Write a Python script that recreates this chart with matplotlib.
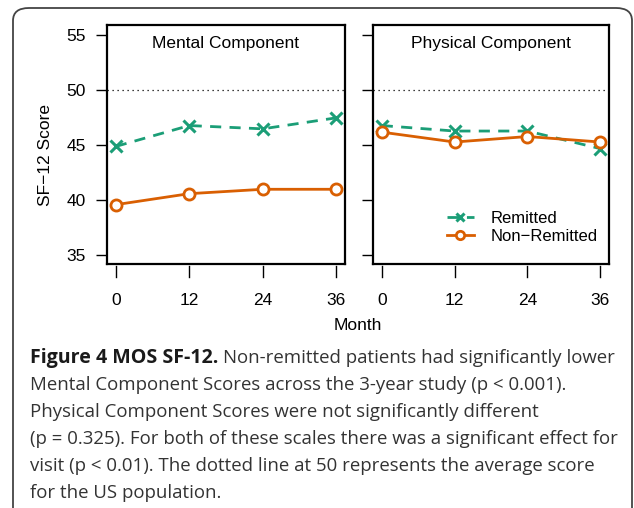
import matplotlib
matplotlib.use("Agg")
import matplotlib.pyplot as plt
from matplotlib.patches import FancyBboxPatch
from matplotlib.transforms import blended_transform_factory

months = [0, 12, 24, 36]
mental_remitted = [44.9, 46.8, 46.5, 47.5]
mental_nonremitted = [39.6, 40.6, 41.0, 41.0]
physical_remitted = [46.8, 46.3, 46.3, 44.7]
physical_nonremitted = [46.2, 45.3, 45.8, 45.3]
yticks = [35, 40, 45, 50, 55]
panel_titles = ["Mental Component", "Physical Component"]
series_labels = ["Remitted", "Non\u2212Remitted"]

GREEN = "#1B9E77"
ORANGE = "#D95F02"
W, H = 634, 508

plt.rcParams['font.family'] = ['Liberation Sans', 'DejaVu Sans']
fig = plt.figure(figsize=(W / 100, H / 100), dpi=100)

def fx(px):
    return px / W

def fy(py):
    return 1 - py / H

# outer rounded frame
frame = FancyBboxPatch((fx(13), fy(540)), fx(619), (540 - 8) / H,
                       boxstyle="round,pad=0,rounding_size=0.025",
                       transform=fig.transFigure, fill=False,
                       edgecolor="#444444", linewidth=1.3, clip_on=False)
fig.patches.append(frame)

panels = [(107, 345), (373, 609)]
top, bot = 25, 264
data = [(mental_remitted, mental_nonremitted), (physical_remitted, physical_nonremitted)]

axes = []
for i, ((l, r), (rem, non)) in enumerate(zip(panels, data)):
    ax = fig.add_axes([fx(l), fy(bot), (r - l) / W, (bot - top) / H])
    axes.append(ax)
    ax.set_xlim(-1.44, 37.44)
    ax.set_ylim(34.2, 55.95)
    ax.axhline(50, color="black", linestyle=(0, (1, 3)), linewidth=0.9)
    ax.plot(months, rem, color=GREEN, linestyle=(0, (4, 3)), linewidth=2,
            marker="x", markersize=8, markeredgewidth=2.2, label=series_labels[0])
    ax.plot(months, non, color=ORANGE, linestyle="-", linewidth=2,
            marker="o", markersize=8, markerfacecolor="white",
            markeredgewidth=2, label=series_labels[1])
    for s in ax.spines.values():
        s.set_linewidth(1.6)
    ax.text(0.5, 0.955, panel_titles[i], transform=ax.transAxes,
            ha="center", va="top", fontsize=12.5)
    ax.set_xticks(months)
    ax.set_xticklabels([str(m) for m in months], fontsize=12.5)
    ax.set_yticks(yticks)
    ax.tick_params(axis="x", length=0, pad=21)
    ax.tick_params(axis="y", length=8, width=1, direction="out", pad=7)
    if i == 0:
        ax.set_yticklabels([str(t) for t in yticks], fontsize=12.5)
    else:
        ax.set_yticklabels([])
    # R-style detached x tick marks
    tr = blended_transform_factory(ax.transData, ax.transAxes)
    for m in months:
        ax.plot([m, m], [-0.008, -0.055], transform=tr, color="black",
                linewidth=1, clip_on=False)

fig.text(fx(45), fy(0.5 * (top + bot) + 10), "SF\u221212 Score", rotation=90,
         ha="center", va="center", fontsize=12.5)

leg = axes[1].legend(loc="lower right", bbox_to_anchor=(1.015, 0.02), frameon=False,
                     fontsize=12, handlelength=1.6, handletextpad=1.0,
                     labelspacing=0.18)
for h in leg.legend_handles:
    h.set_markersize(6)

fig.text(0.5 * (fx(107) + fx(609)), fy(326), "Month", ha="center", va="center",
         fontsize=12.5)

# caption
cap_font = ['Open Sans', 'DejaVu Sans']
lines = [
    "Non-remitted patients had significantly lower",
    "Mental Component Scores across the 3-year study (p < 0.001).",
    "Physical Component Scores were not significantly different",
    "(p = 0.325). For both of these scales there was a significant effect for",
    "visit (p < 0.01). The dotted line at 50 represents the average score",
    "for the US population.",
]
ys = [358, 385, 412, 439, 466, 493]
bold = fig.text(fx(30), fy(ys[0]), "Figure 4 MOS SF-12.", fontsize=14.1,
                fontweight="bold", family=cap_font, va="center", ha="left",
                color="#1a1a1a")
fig.canvas.draw()
bb = bold.get_window_extent()
x_after = (bb.x1 + 5) / W
fig.text(x_after, fy(ys[0]), lines[0], fontsize=13.4, family=cap_font,
         va="center", ha="left", color="#333333")
for t, y in zip(lines[1:], ys[1:]):
    fig.text(fx(30), fy(y), t, fontsize=13.4, family=cap_font, va="center",
             ha="left", color="#333333")

fig.savefig("out.png", dpi=100)
